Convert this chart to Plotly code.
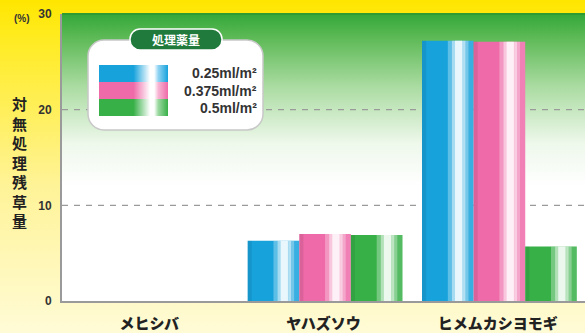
import base64
import plotly.graph_objects as go

# ---------------- data ----------------
categories = ["メヒシバ", "ヤハズソウ", "ヒメムカシヨモギ"]
series_names = ["0.25ml/m²", "0.375ml/m²", "0.5ml/m²"]
dose_025 = [0, 6.3, 27.2]
dose_0375 = [0, 7.0, 27.1]
dose_05 = [0, 6.9, 5.7]
y_tickvals = [0, 10, 20, 30]
y_ticktext = ["0", "10", "20", "30"]
legend_title = "処理薬量"
y_title = "対無処理残草量"

# ---------------- styling ----------------
W, H = 585, 333
L, R, T, B = 62, 0, 14, 32
PW, PH = W - L - R, H - T - B
colors = ["#17a2dc", "#ee6aa8", "#38b048"]
light = ["#8fd3f2", "#f7b5d3", "#9ad89f"]
FONT = "Noto Sans CJK JP"
LATIN = "Liberation Sans"


def px(x):
    return (x - L) / PW


def py(y):
    return (H - B - y) / PH


def svg_uri(svg):
    return "data:image/svg+xml;base64," + base64.b64encode(svg.encode()).decode()


paper_svg = f"""<svg xmlns='http://www.w3.org/2000/svg' width='{W}' height='{H}' preserveAspectRatio='none'>
<defs><linearGradient id='g' x1='0' y1='0' x2='0' y2='1'>
<stop offset='0' stop-color='#ffe600'/><stop offset='0.12' stop-color='#ffeb22'/>
<stop offset='0.55' stop-color='#fff396'/><stop offset='1' stop-color='#fffbd6'/>
</linearGradient></defs><rect width='{W}' height='{H}' fill='url(#g)'/></svg>"""

plot_svg = """<svg xmlns='http://www.w3.org/2000/svg' width='100' height='100' preserveAspectRatio='none'>
<defs><linearGradient id='g' x1='0' y1='0' x2='0' y2='1'>
<stop offset='0' stop-color='#33a83a'/><stop offset='0.08' stop-color='#5cb955'/>
<stop offset='0.25' stop-color='#a9dba0'/><stop offset='0.45' stop-color='#eef8eb'/>
<stop offset='0.6' stop-color='#ffffff'/><stop offset='1' stop-color='#ffffff'/>
</linearGradient></defs><rect width='100' height='100' fill='url(#g)'/></svg>"""

# legend box (box, colour swatches, title pill) drawn as one overlay picture in figure pixels
sw_y = [65, 82, 99]
defs = ""
rects = ""
for i in range(3):
    c, lc = colors[i], light[i]
    defs += (f"<linearGradient id='s{i}' x1='0' y1='0' x2='1' y2='0'>"
             f"<stop offset='0' stop-color='{c}'/><stop offset='0.5' stop-color='{c}'/>"
             f"<stop offset='0.74' stop-color='#ffffff'/><stop offset='0.8' stop-color='#ffffff'/>"
             f"<stop offset='0.86' stop-color='{lc}'/><stop offset='1' stop-color='{c}'/>"
             f"</linearGradient>")
    rects += f"<rect x='99' y='{sw_y[i]}' width='69' height='17' fill='url(#s{i})'/>"
legend_svg = (f"<svg xmlns='http://www.w3.org/2000/svg' width='{W}' height='{H}' viewBox='0 0 {W} {H}' "
              f"preserveAspectRatio='none'><defs>{defs}</defs>"
              f"<rect x='88' y='40' width='175' height='90' rx='16' ry='16' fill='white' "
              f"stroke='#c8c8c8' stroke-width='1.5'/>{rects}"
              f"<rect x='130' y='29' width='92' height='21' rx='10' ry='10' fill='#1f7a3c' "
              f"stroke='white' stroke-width='1.5'/></svg>")

fig = go.Figure()

series = [dose_025, dose_0375, dose_05]
bw = 0.296
off0 = -0.435
# highlight layers (relative start, relative width, opacity) to fake cylinder shading
highlights = [(0.50, 0.40, 0.30), (0.58, 0.26, 0.45), (0.64, 0.14, 0.75), (0.80, 0.20, 0.15)]
for i, (vals, name) in enumerate(zip(series, series_names)):
    off = off0 + i * bw
    fig.add_trace(go.Bar(
        x=categories, y=vals, name=name, offset=off, width=bw,
        marker=dict(color=colors[i], line=dict(width=0)),
        showlegend=False,
    ))
    for rs, rw, op in highlights:
        fig.add_trace(go.Bar(
            x=categories, y=vals, offset=off + rs * bw, width=rw * bw,
            marker=dict(color="white", opacity=op, line=dict(width=0)),
            showlegend=False, hoverinfo="skip",
        ))
    fig.add_trace(go.Bar(
        x=categories, y=vals, offset=off, width=0.08 * bw,
        marker=dict(color="black", opacity=0.08, line=dict(width=0)),
        showlegend=False, hoverinfo="skip",
    ))

images = [
    dict(source=svg_uri(paper_svg), xref="paper", yref="paper",
         x=px(0), y=py(0), sizex=W / PW, sizey=H / PH,
         xanchor="left", yanchor="top", sizing="stretch", layer="below"),
    dict(source=svg_uri(plot_svg), xref="paper", yref="paper",
         x=0, y=1, sizex=1, sizey=1, xanchor="left", yanchor="top",
         sizing="stretch", layer="below"),
    dict(source=svg_uri(legend_svg), xref="paper", yref="paper",
         x=px(0), y=py(0), sizex=W / PW, sizey=H / PH,
         xanchor="left", yanchor="top", sizing="stretch", layer="above"),
]

shapes = [dict(type="line", xref="paper", yref="paper", x0=0, x1=1, y0=1, y1=1,
               line=dict(color="#2e9a34", width=2), layer="above")]
for gv in [10, 20]:
    shapes.append(dict(type="line", xref="paper", yref="y", x0=0, x1=1, y0=gv, y1=gv,
                       line=dict(color="#9a9a9a", width=1.3, dash="6px,6px"), layer="below"))

annotations = []
for i, name in enumerate(series_names):
    annotations.append(dict(text=f"<b>{name}</b>", xref="paper", yref="paper",
                            x=px(258), y=py(sw_y[i] + 8.5), xanchor="right", yanchor="middle",
                            borderpad=0, showarrow=False,
                            font=dict(family=LATIN, size=14, color="#333333")))
annotations += [
    dict(text=f"<b>{legend_title}</b>", xref="paper", yref="paper",
         x=px(176), y=py(39.5), xanchor="center", yanchor="middle",
         showarrow=False, font=dict(family=FONT, size=12, color="white")),
    dict(text="<b>" + "<br>".join(y_title) + "</b>", xref="paper", yref="paper",
         x=px(19), y=py(162), xanchor="center", yanchor="middle",
         showarrow=False, font=dict(family=FONT, size=15, color="#222222")),
    dict(text="<b>(%)</b>", xref="paper", yref="paper",
         x=px(22), y=py(18), xanchor="center", yanchor="middle",
         showarrow=False, font=dict(family=LATIN, size=10, color="#333333")),
]

fig.update_layout(
    width=W, height=H,
    margin=dict(l=L, r=R, t=T, b=B),
    paper_bgcolor="#fff6a8",
    plot_bgcolor="rgba(0,0,0,0)",
    barmode="overlay",
    showlegend=False,
    images=images,
    shapes=shapes,
    annotations=annotations,
    xaxis=dict(
        type="category", range=[-0.5, 2.5], showgrid=False, zeroline=False,
        showline=True, linecolor="#9a9a9a", linewidth=2,
        tickfont=dict(family=FONT, size=15, color="#222222", weight=900),
        ticks="", ticklabelstandoff=8, fixedrange=True,
    ),
    yaxis=dict(
        range=[0, 30], tickvals=y_tickvals, ticktext=y_ticktext,
        showgrid=False, zeroline=False, showline=True, linecolor="#9a9a9a", linewidth=2,
        tickfont=dict(family=LATIN, size=12, color="#333333", weight=900),
        ticks="", ticklabelstandoff=6, fixedrange=True,
    ),
)

fig.write_html("out.html")
